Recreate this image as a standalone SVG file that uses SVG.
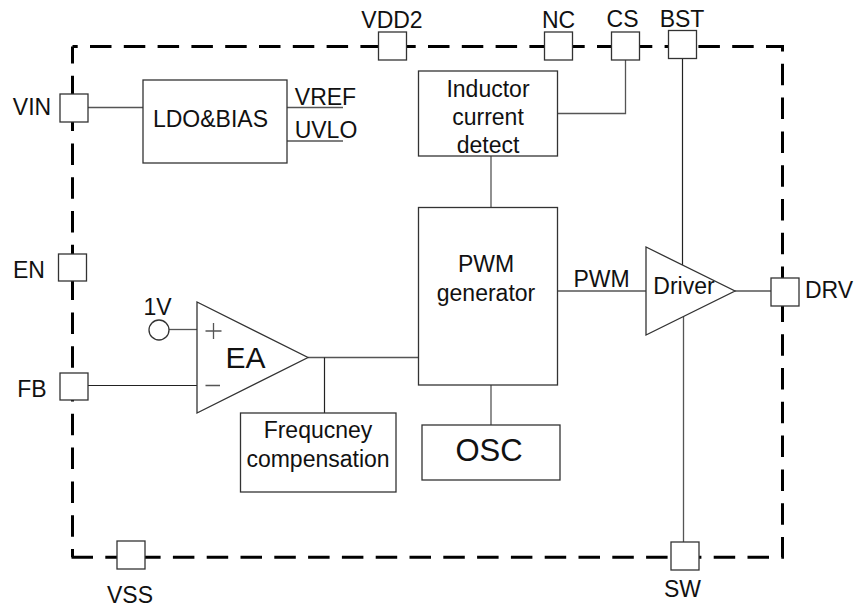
<svg xmlns="http://www.w3.org/2000/svg" width="856" height="608" viewBox="0 0 856 608">
<style>
text{font-family:"Liberation Sans",Arial,sans-serif;font-size:23px;fill:#111;text-anchor:middle}
.l{fill:none;stroke:#555;stroke-width:1.3}
.k{fill:none;stroke:#222;stroke-width:1.2}
.b{fill:#fff;stroke:#333;stroke-width:1.3}
.d{fill:none;stroke:#000;stroke-width:3;stroke-dasharray:21.5 12.3}
</style>
<rect width="856" height="608" fill="#fff"/>
<g id="boundary"><path class="d" d="M72.500 46.500V557.300" stroke-dashoffset="4.500"/><path class="d" d="M72.500 46.500H782.500V557.300H71" stroke-dashoffset="16.300"/></g>
<g id="connectors">
<path class="l" d="M88 107.500H143"/>
<path class="l" d="M287 107.500H343"/>
<path class="l" d="M287 141H343"/>
<path class="l" d="M625.500 60V113.500H557.500"/>
<path class="l" d="M491 156V207.500"/>
<path class="l" d="M491 385V425"/>
<path class="l" d="M557.500 291H646"/>
<path class="l" d="M735 291H771"/>
<path class="k" d="M682.500 58.500V265"/>
<path class="l" d="M683.500 316V542"/>
<path class="l" d="M169 329.500H197"/>
<path class="k" d="M86 385.500H197"/>
<path class="l" d="M308 357.500H418.500"/>
<path class="k" d="M324.500 357.500V413"/>
</g>
<g id="vin"><rect class="b" x="60" y="94" width="28" height="28"/><text x="32" y="115">VIN</text></g>
<g id="en"><rect class="b" x="58.500" y="254" width="28" height="27"/><text x="29" y="278">EN</text></g>
<g id="fb"><rect class="b" x="60" y="373" width="28" height="27"/><text x="32" y="397">FB</text></g>
<g id="vss"><rect class="b" x="117" y="541" width="28" height="28"/><text x="130" y="603">VSS</text></g>
<g id="vdd2"><rect class="b" x="378.500" y="32" width="28" height="28"/><text x="392" y="28">VDD2</text></g>
<g id="nc"><rect class="b" x="544.500" y="32" width="28" height="28"/><text x="558.500" y="28">NC</text></g>
<g id="cs"><rect class="b" x="611.500" y="32" width="28" height="28"/><text x="622.500" y="27">CS</text></g>
<g id="bst"><rect class="b" x="668.500" y="30.500" width="28" height="28"/><text x="682" y="27">BST</text></g>
<g id="sw"><rect class="b" x="671" y="542" width="28" height="28"/><text x="682.500" y="597">SW</text></g>
<g id="drv"><rect class="b" x="771" y="278" width="28" height="28"/><text x="829" y="298">DRV</text></g>
<g id="ldo"><rect class="b" x="143" y="80" width="144" height="83"/><text x="210.500" y="127">LDO&amp;BIAS</text><text x="325.500" y="105">VREF</text><text x="326" y="138">UVLO</text></g>
<g id="inductor"><rect class="b" x="418.500" y="71" width="139" height="85"/><text x="488" y="97">Inductor</text><text x="488" y="125">current</text><text x="488" y="153">detect</text></g>
<g id="pwmgen"><rect class="b" x="418.500" y="207.500" width="139" height="177.500"/><text x="486" y="272">PWM</text><text x="486" y="301">generator</text></g>
<g id="pwmlabel"><text x="601.500" y="287">PWM</text></g>
<g id="driver"><path class="b" d="M646 247V335L735 291Z"/><text x="684" y="294">Driver</text></g>
<g id="ea"><path class="b" d="M197 302V413L308 357.500Z"/><path class="l" d="M205.500 331H221.500M213.500 323V339M205.500 385.500H220"/><text x="245.500" y="368" style="font-size:30px">EA</text></g>
<g id="ref"><circle class="b" cx="159" cy="330" r="10"/><text x="157.500" y="315">1V</text></g>
<g id="freq"><rect class="b" x="240.500" y="413" width="155.500" height="79"/><text x="318" y="438">Frequcney</text><text x="318" y="467">compensation</text></g>
<g id="osc"><rect class="b" x="422" y="425" width="138" height="55"/><text x="489" y="461" style="font-size:31px">OSC</text></g>
</svg>
